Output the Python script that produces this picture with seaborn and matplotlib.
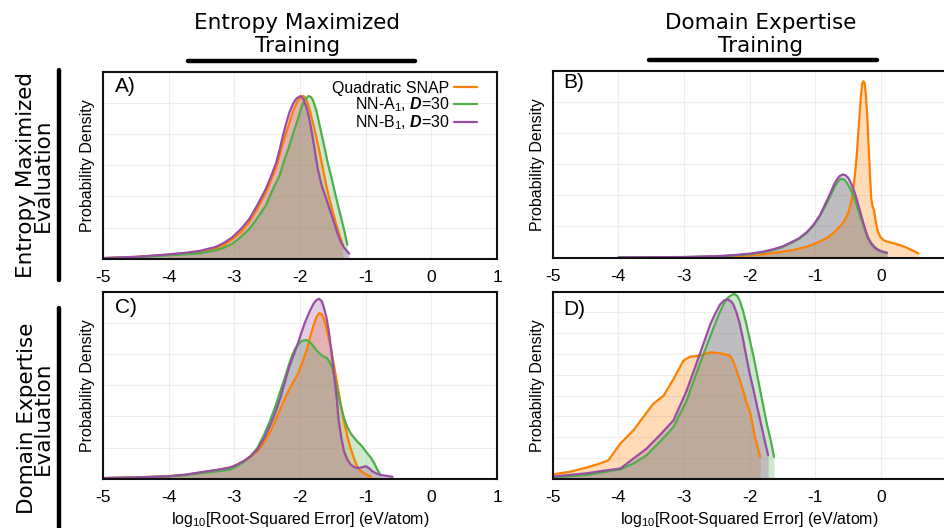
import numpy as np
import pandas as pd
import matplotlib
matplotlib.use('Agg')
import matplotlib.pyplot as plt
import seaborn as sns
from matplotlib.lines import Line2D

# Style
sns.set_style('white')
plt.rcParams['font.family'] = ['Liberation Sans', 'DejaVu Sans']
plt.rcParams['axes.unicode_minus'] = False
plt.rcParams['text.color'] = 'black'
plt.rcParams['axes.labelcolor'] = 'black'
plt.rcParams['xtick.color'] = 'black'
plt.rcParams['ytick.color'] = 'black'
plt.rcParams['mathtext.fontset'] = 'custom'
plt.rcParams['mathtext.rm'] = 'Liberation Sans'
plt.rcParams['mathtext.it'] = 'Liberation Sans:italic'
plt.rcParams['mathtext.bf'] = 'Liberation Sans:bold:italic'

# ===== DATA (density vs log10 error) =====
models = ['Quadratic SNAP', 'NN-A$_1$, $\\mathbf{D}$=30', 'NN-B$_1$, $\\mathbf{D}$=30']
colors = ['#ff7f00', '#4daf4a', '#984ea3']
xticks = [-5, -4, -3, -2, -1, 0, 1]

# A) entropy-max training, entropy-max evaluation
a_snap_x = [-5.0, -4.5, -4.0, -3.75, -3.53, -3.28, -3.15, -3.03, -2.90, -2.77, -2.65, -2.52, -2.44,
            -2.36, -2.30, -2.24, -2.17, -2.11, -2.05, -2.00, -1.95, -1.91, -1.86, -1.82, -1.78,
            -1.71, -1.65, -1.60, -1.55, -1.50, -1.45, -1.40, -1.35]
a_snap_y = [0.02, 0.06, 0.13, 0.17, 0.22, 0.33, 0.45, 0.62, 0.85, 1.18, 1.60, 2.12, 2.52,
            2.94, 3.40, 3.85, 4.30, 4.70, 5.00, 5.17, 5.22, 5.15, 4.85, 4.50, 4.17,
            3.50, 2.88, 2.35, 1.90, 1.50, 1.12, 0.78, 0.42]
a_nna_x = [-5.0, -4.5, -4.0, -3.75, -3.53, -3.28, -3.15, -3.03, -2.90, -2.77, -2.65, -2.52, -2.42,
           -2.31, -2.24, -2.16, -2.10, -2.03, -1.98, -1.93, -1.87, -1.83, -1.80, -1.75, -1.70,
           -1.64, -1.58, -1.52, -1.47, -1.42, -1.37, -1.32, -1.28]
a_nna_y = [0.02, 0.05, 0.11, 0.14, 0.17, 0.27, 0.36, 0.48, 0.70, 0.96, 1.30, 1.71, 2.20,
           2.67, 3.15, 3.63, 4.05, 4.49, 4.85, 5.10, 5.22, 5.18, 5.07, 4.75, 4.27,
           3.70, 3.10, 2.60, 2.14, 1.70, 1.28, 0.85, 0.45]
a_nnb_x = [-5.0, -4.5, -4.0, -3.75, -3.53, -3.28, -3.15, -3.03, -2.90, -2.77, -2.65, -2.52, -2.44,
           -2.36, -2.31, -2.26, -2.21, -2.16, -2.10, -2.05, -1.99, -1.95, -1.90, -1.86, -1.83,
           -1.78, -1.73, -1.67, -1.60, -1.55, -1.50, -1.45, -1.40, -1.33, -1.25]
a_nnb_y = [0.02, 0.06, 0.14, 0.19, 0.25, 0.38, 0.52, 0.69, 0.95, 1.28, 1.72, 2.24, 2.65,
           3.10, 3.50, 3.95, 4.35, 4.70, 5.00, 5.15, 5.22, 5.12, 4.85, 4.50, 4.17,
           3.55, 2.88, 2.35, 1.92, 1.60, 1.28, 0.95, 0.64, 0.36, 0.16]

# B) domain-expertise training, entropy-max evaluation
b_snap_x = [-3.0, -2.5, -2.0, -1.75, -1.54, -1.33, -1.13, -0.97, -0.82, -0.72, -0.62, -0.55, -0.50,
            -0.46, -0.43, -0.40, -0.37, -0.34, -0.31, -0.29, -0.27, -0.25, -0.23, -0.21, -0.19,
            -0.17, -0.15, -0.13, -0.11, -0.08, -0.05, -0.01, 0.04, 0.10, 0.20, 0.29, 0.38,
            0.45, 0.52, 0.57]
b_snap_y = [0.01, 0.03, 0.07, 0.12, 0.18, 0.25, 0.35, 0.48, 0.64, 0.80, 1.01, 1.22, 1.44,
            1.72, 2.08, 2.60, 3.30, 4.20, 5.10, 5.55, 5.66, 5.60, 5.20, 4.50, 3.60,
            2.70, 1.90, 1.65, 1.55, 1.15, 0.85, 0.66, 0.56, 0.51, 0.46, 0.40, 0.33,
            0.26, 0.19, 0.13]
b_nna_x = [-4.0, -3.0, -2.5, -2.25, -1.99, -1.80, -1.64, -1.50, -1.38, -1.25, -1.13, -1.03, -0.93,
           -0.85, -0.77, -0.72, -0.67, -0.63, -0.60, -0.56, -0.52, -0.47, -0.42, -0.37, -0.32,
           -0.26, -0.21, -0.16, -0.11, -0.06, -0.01, 0.04, 0.09]
b_nna_y = [0.01, 0.02, 0.04, 0.07, 0.11, 0.17, 0.25, 0.34, 0.46, 0.60, 0.80, 1.03, 1.34,
           1.65, 1.98, 2.22, 2.40, 2.50, 2.53, 2.50, 2.40, 2.22, 1.98, 1.68, 1.34,
           0.98, 0.69, 0.50, 0.37, 0.28, 0.21, 0.17, 0.14]
b_nnb_x = [-4.0, -3.0, -2.5, -2.25, -1.99, -1.80, -1.64, -1.50, -1.38, -1.25, -1.13, -1.03, -0.93,
           -0.85, -0.77, -0.72, -0.67, -0.63, -0.58, -0.54, -0.50, -0.45, -0.40, -0.35, -0.30,
           -0.25, -0.20, -0.15, -0.10, -0.05, 0.00, 0.05, 0.09]
b_nnb_y = [0.01, 0.02, 0.05, 0.08, 0.13, 0.19, 0.27, 0.36, 0.48, 0.62, 0.82, 1.05, 1.36,
           1.72, 2.08, 2.33, 2.51, 2.62, 2.67, 2.64, 2.56, 2.36, 2.08, 1.72, 1.34,
           0.97, 0.64, 0.45, 0.32, 0.25, 0.21, 0.18, 0.16]

# C) entropy-max training, domain-expertise evaluation
c_snap_x = [-5.0, -4.5, -4.0, -3.75, -3.5, -3.25, -3.06, -2.96, -2.86, -2.75, -2.65, -2.55, -2.45,
            -2.35, -2.25, -2.15, -2.04, -1.96, -1.89, -1.84, -1.79, -1.75, -1.71, -1.67, -1.64,
            -1.59, -1.53, -1.48, -1.43, -1.38, -1.33, -1.28, -1.23, -1.18, -1.13, -1.08, -1.03,
            -0.97, -0.92]
c_snap_y = [0.02, 0.04, 0.08, 0.12, 0.20, 0.28, 0.36, 0.45, 0.56, 0.70, 0.88, 1.15, 1.52,
            1.98, 2.48, 2.92, 3.33, 3.75, 4.19, 4.60, 4.94, 5.18, 5.31, 5.28, 5.15,
            4.75, 4.19, 3.60, 3.01, 2.40, 1.84, 1.38, 0.98, 0.66, 0.40, 0.26, 0.18,
            0.11, 0.07]
c_nna_x = [-5.0, -4.5, -4.0, -3.75, -3.5, -3.25, -3.06, -2.96, -2.86, -2.75, -2.65, -2.55, -2.45,
           -2.37, -2.30, -2.23, -2.17, -2.12, -2.07, -2.02, -1.97, -1.90, -1.85, -1.81, -1.76,
           -1.71, -1.65, -1.59, -1.55, -1.51, -1.47, -1.43, -1.38, -1.33, -1.28, -1.23, -1.18,
           -1.13, -1.06, -1.00, -0.93, -0.87, -0.82, -0.77]
c_nna_y = [0.02, 0.04, 0.07, 0.11, 0.18, 0.24, 0.29, 0.40, 0.53, 0.74, 0.98, 1.40, 1.89,
           2.35, 2.80, 3.25, 3.65, 3.95, 4.19, 4.33, 4.42, 4.45, 4.38, 4.29, 4.15,
           4.03, 3.93, 3.87, 3.75, 3.55, 3.20, 2.80, 2.35, 1.94, 1.66, 1.46, 1.32,
           1.20, 1.05, 0.88, 0.70, 0.50, 0.28, 0.10]
c_nnb_x = [-5.0, -4.5, -4.0, -3.75, -3.5, -3.25, -3.06, -2.96, -2.86, -2.75, -2.65, -2.55, -2.45,
           -2.37, -2.30, -2.23, -2.17, -2.10, -2.04, -1.98, -1.92, -1.85, -1.79, -1.75, -1.71,
           -1.67, -1.64, -1.60, -1.56, -1.52, -1.48, -1.44, -1.41, -1.37, -1.33, -1.28, -1.23,
           -1.16, -1.10, -1.05, -1.00, -0.95, -0.90, -0.83, -0.77, -0.68, -0.59]
c_nnb_y = [0.02, 0.04, 0.08, 0.13, 0.21, 0.29, 0.36, 0.45, 0.56, 0.72, 0.93, 1.28, 1.73,
           2.15, 2.59, 3.10, 3.55, 3.95, 4.29, 4.68, 5.04, 5.38, 5.63, 5.73, 5.77,
           5.70, 5.52, 5.20, 4.72, 4.05, 3.33, 2.55, 1.84, 1.30, 0.88, 0.62, 0.45,
           0.36, 0.34, 0.37, 0.40, 0.34, 0.24, 0.16, 0.12, 0.09, 0.06]

# D) domain-expertise training, domain-expertise evaluation
d_snap_x = [-5.0, -4.74, -4.48, -4.28, -4.15, -3.97, -3.77, -3.62, -3.47, -3.31, -3.16, -3.01, -2.91,
            -2.76, -2.60, -2.45, -2.30, -2.25, -2.20, -2.15, -2.10, -2.05, -1.99, -1.92, -1.84]
d_snap_y = [0.21, 0.33, 0.54, 0.73, 0.89, 1.69, 2.33, 2.97, 3.60, 4.00, 4.80, 5.68, 5.87,
            5.92, 6.08, 6.04, 5.92, 5.65, 5.20, 4.75, 4.24, 3.70, 3.13, 2.01, 1.05]
d_nna_x = [-5.0, -4.48, -3.97, -3.77, -3.57, -3.37, -3.16, -2.96, -2.76, -2.55, -2.47, -2.40, -2.34,
           -2.30, -2.24, -2.19, -2.15, -2.10, -2.05, -2.00, -1.94, -1.89, -1.84, -1.79, -1.74,
           -1.68, -1.63]
d_nna_y = [0.06, 0.18, 0.45, 0.73, 1.13, 1.77, 2.49, 3.76, 5.52, 7.27, 7.90, 8.39, 8.68,
           8.79, 8.90, 8.80, 8.55, 8.05, 7.43, 6.70, 5.84, 5.05, 4.24, 3.45, 2.65,
           1.85, 1.05]
d_nnb_x = [-5.0, -4.48, -4.23, -3.97, -3.77, -3.57, -3.37, -3.16, -2.96, -2.76, -2.60, -2.52, -2.45,
           -2.39, -2.34, -2.29, -2.25, -2.20, -2.15, -2.10, -2.05, -2.00, -1.94, -1.89, -1.84,
           -1.78, -1.72]
d_nnb_y = [0.10, 0.26, 0.38, 0.49, 0.97, 1.45, 2.09, 2.81, 4.24, 6.00, 7.43, 7.98, 8.39,
           8.58, 8.63, 8.55, 8.39, 7.98, 7.43, 6.68, 5.84, 5.05, 4.24, 3.50, 2.81,
           1.95, 1.13]

panels = [
    ('A)', [(a_snap_x, a_snap_y), (a_nna_x, a_nna_y), (a_nnb_x, a_nnb_y)], 6, [1, 2, 3, 4, 5]),
    ('B)', [(b_snap_x, b_snap_y), (b_nna_x, b_nna_y), (b_nnb_x, b_nnb_y)], 6, [1, 2, 3, 4, 5]),
    ('C)', [(c_snap_x, c_snap_y), (c_nna_x, c_nna_y), (c_nnb_x, c_nnb_y)], 6, [1, 2, 3, 4, 5]),
    ('D)', [(d_snap_x, d_snap_y), (d_nna_x, d_nna_y), (d_nnb_x, d_nnb_y)], 9, [1, 2, 3, 4, 5, 6, 7, 8]),
]

# axes rectangles in figure fractions (left, bottom, width, height)
rects = [(0.1091, 0.510, 0.4174, 0.3542), (0.5855, 0.512, 0.4174, 0.3542),
         (0.1091, 0.0934, 0.4174, 0.3542), (0.5855, 0.0934, 0.4174, 0.3542)]
label_pos = [(0.030, 0.893), (0.027, 0.905), (0.030, 0.888), (0.027, 0.875)]

fig = plt.figure(figsize=(9.44, 5.28), dpi=100)

for i, (tag, curves, ymax, yt) in enumerate(panels):
    ax = fig.add_axes(rects[i])
    rows = []
    for m, (xs, ys) in zip(models, curves):
        rows.append(pd.DataFrame({'x': xs, 'y': ys, 'model': m}))
    df = pd.concat(rows, ignore_index=True)

    # shaded densities under each curve
    for m, c, (xs, ys) in zip(models, colors, curves):
        ax.fill_between(xs, ys, 0, color=c, alpha=0.28, linewidth=0, zorder=1)
    sns.lineplot(data=df, x='x', y='y', hue='model', hue_order=models,
                 palette=dict(zip(models, colors)), estimator=None, sort=True,
                 linewidth=1.6, legend=False, ax=ax, zorder=2)

    ax.set_xlim(-5, 1)
    ax.set_ylim(0, ymax)
    ax.set_xticks(xticks)
    ax.set_xticklabels([str(t) for t in xticks], fontsize=12.5)
    ax.set_yticks(yt)
    ax.set_yticklabels([])
    ax.tick_params(direction='in', length=4, width=1.3, pad=8, color='#222222')
    ax.grid(True, color='#eeeeee', linewidth=0.8)
    for sp in ax.spines.values():
        sp.set_linewidth(1.5)
        sp.set_color('#111111')
    ax.set_ylabel('Probability Density', fontsize=11.5)
    ax.yaxis.set_label_coords(-0.02, 0.5)
    if i >= 2:
        ax.set_xlabel('log$_{10}$[Root-Squared Error] (eV/atom)', fontsize=11.5, labelpad=4)
    else:
        ax.set_xlabel('')
    if i in (1, 3):
        ax.get_xticklabels()[-1].set_visible(False)
    ax.text(label_pos[i][0], label_pos[i][1], tag, transform=ax.transAxes,
            fontsize=15, va='baseline', ha='left')

    if i == 0:
        handles = [Line2D([], [], color=c, linewidth=1.6) for c in colors]
        ax.legend(handles, models, loc='upper right', bbox_to_anchor=(0.9485, 0.95),
                  markerfirst=False, frameon=False, fontsize=11.5, handlelength=1.4,
                  handletextpad=0.3, labelspacing=-0.05, borderaxespad=0, borderpad=0)

# Column headers
fig.text(0.315, 0.934, 'Entropy Maximized\nTraining', ha='center', va='center',
         fontsize=15.5, family='DejaVu Sans', linespacing=1.2)
fig.text(0.8055, 0.934, 'Domain Expertise\nTraining', ha='center', va='center',
         fontsize=15.5, family='DejaVu Sans', linespacing=1.2)
fig.add_artist(Line2D([0.199, 0.4396], [0.8845, 0.8845], color='black', linewidth=3.2,
                      transform=fig.transFigure))
fig.add_artist(Line2D([0.6878, 0.9287], [0.8857, 0.8857], color='black', linewidth=3.2,
                      transform=fig.transFigure))

# Row headers
fig.text(0.036, 0.6686, 'Entropy Maximized\nEvaluation', ha='center', va='center', rotation=90,
         fontsize=15.5, family='DejaVu Sans', linespacing=0.8)
fig.text(0.037, 0.208, 'Domain Expertise\nEvaluation', ha='center', va='center', rotation=90,
         fontsize=15.5, family='DejaVu Sans', linespacing=0.8)
fig.add_artist(Line2D([0.0628, 0.0628], [0.8674, 0.4697], color='black', linewidth=3.2,
                      transform=fig.transFigure))
fig.add_artist(Line2D([0.0628, 0.0628], [0.4167, 0.0], color='black', linewidth=3.2,
                      transform=fig.transFigure))

fig.savefig('out.png', dpi=100)
